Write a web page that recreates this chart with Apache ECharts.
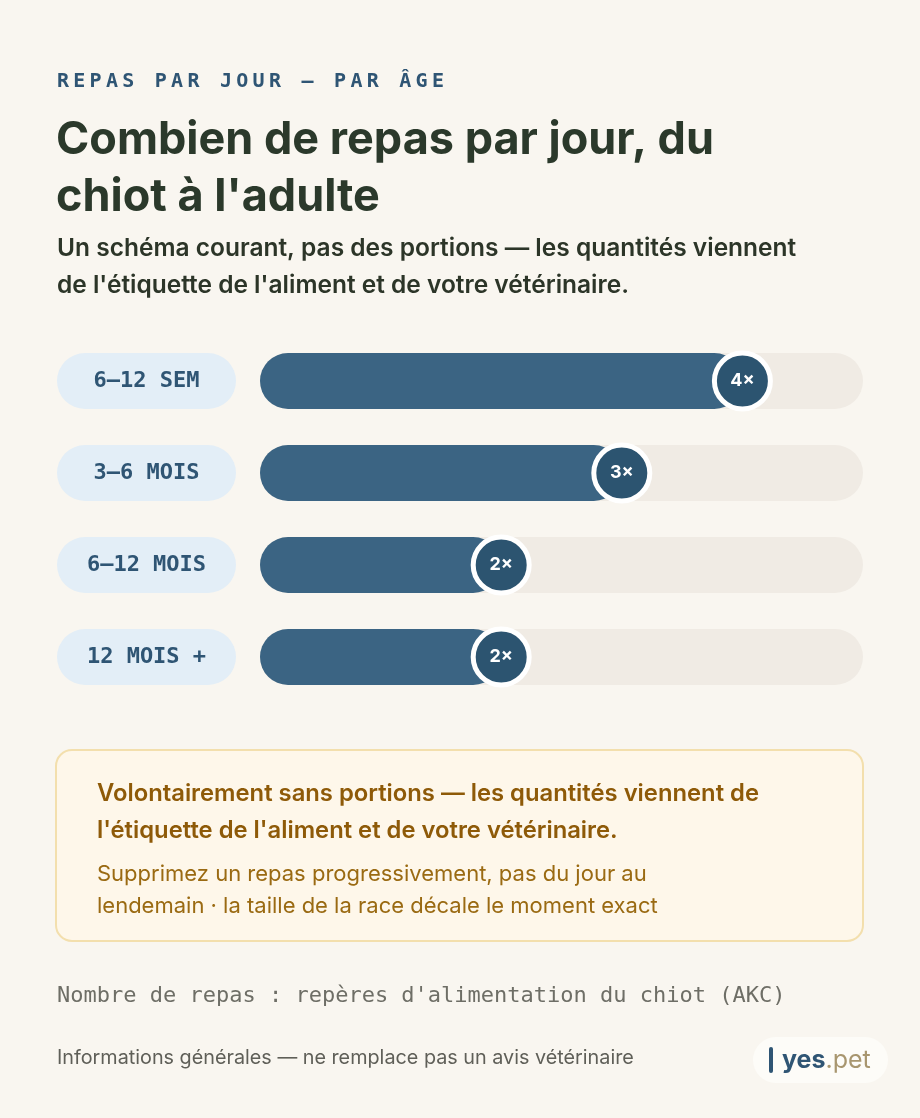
<!DOCTYPE html>
<html lang="fr">
<head>
    <meta charset="UTF-8">
    <title>Repas par jour</title>
    <script src="https://cdn.jsdelivr.net/npm/echarts@6/dist/echarts.min.js"></script>
    <style>
        *{
            margin: 0;
            padding: 0;
        }
        body{
            background: #f9f6f0;
        }
        .container{
            width: 920px;
            height: 1118px;
        }
    </style>
</head>
<body>
<div class="container"></div>
<script>
    // data
    let categories = ['6–12 SEM', '3–6 MOIS', '6–12 MOIS', '12 MOIS +']
    let mealsPerDay = [4, 3, 2, 2]
    let scaleMax = 5

    let mono = '"DejaVu Sans Mono", monospace'
    let sans = 'Inter, "Noto Sans", sans-serif'
    let blue = '#2f5574'

    let container = document.querySelector('.container')
    let echart = echarts.init(container)

    // eyebrow with letter spacing: one text per character
    let eyebrow = 'REPAS PAR JOUR — PAR ÂGE'
    let eyebrowTexts = eyebrow.split('').map((ch, i) => ({
        type: 'text',
        style: {
            text: ch, x: 57 + i * 16.3, y: 82,
            font: 'bold 20px ' + mono, fill: blue, verticalAlign: 'middle'
        }
    }))

    function txt(text, x, y, font, fill) {
        return {type: 'text', style: {text, x, y, font, fill, verticalAlign: 'middle'}}
    }

    let graphic = eyebrowTexts.concat([
        txt('Combien de repas par jour, du', 56, 140, 'bold 45px ' + sans, '#2b392b'),
        txt("chiot à l'adulte", 56, 197, 'bold 45px ' + sans, '#2b392b'),
        txt('Un schéma courant, pas des portions — les quantités viennent', 57, 249, '600 24.5px ' + sans, '#2c3528'),
        txt("de l'étiquette de l'aliment et de votre vétérinaire.", 57, 286, '600 24.5px ' + sans, '#2c3528'),
        {
            type: 'rect',
            shape: {x: 56, y: 750, width: 807, height: 191, r: 16},
            style: {fill: '#fef7ea', stroke: '#f3dfad', lineWidth: 2}
        },
        txt('Volontairement sans portions — les quantités viennent de', 97, 794, '600 23.8px ' + sans, '#8e5a08'),
        txt("l'étiquette de l'aliment et de votre vétérinaire.", 97, 831, '600 23.8px ' + sans, '#8e5a08'),
        txt('Supprimez un repas progressivement, pas du jour au', 97, 874, '22px ' + sans, '#9a6a12'),
        txt('lendemain · la taille de la race décale le moment exact', 97, 906, '22px ' + sans, '#9a6a12'),
        txt("Nombre de repas : repères d'alimentation du chiot (AKC)", 57, 996, '22px ' + mono, '#6e6e66'),
        txt('Informations générales — ne remplace pas un avis vétérinaire', 57, 1058, '19.8px ' + sans, '#5f5f58'),
        {
            type: 'rect',
            shape: {x: 753, y: 1037, width: 135, height: 46, r: 23},
            style: {fill: '#fdfcf8'}
        },
        {
            type: 'rect',
            shape: {x: 769, y: 1047, width: 4, height: 26, r: 2},
            style: {fill: blue}
        },
        {
            type: 'text',
            style: {
                text: '{a|yes}{b|.pet}', x: 782, y: 1060, verticalAlign: 'middle',
                rich: {
                    a: {font: 'bold 25px ' + sans, fill: blue},
                    b: {font: '25px ' + sans, fill: '#a8966f'}
                }
            }
        }
    ])

    let option = {
        backgroundColor: '#f9f6f0',
        animation: false,
        grid: {left: 260, right: 57, top: 335, height: 368},
        xAxis: {
            type: 'value', min: 0, max: scaleMax, show: false
        },
        yAxis: {
            type: 'category',
            data: categories,
            inverse: true,
            axisLine: {show: false},
            axisTick: {show: false},
            axisLabel: {
                margin: 24,
                formatter: v => '{p|' + v + '}',
                rich: {
                    p: {
                        width: 179, height: 56, lineHeight: 64, align: 'center',
                        backgroundColor: '#e3eef7', borderRadius: 28,
                        color: blue, fontFamily: mono, fontWeight: 'bold', fontSize: 22
                    }
                }
            }
        },
        series: [
            {
                name: 'track',
                type: 'bar',
                data: categories.map(() => scaleMax),
                barWidth: 56,
                silent: true,
                itemStyle: {color: '#f0ebe4', borderRadius: 28}
            },
            {
                name: 'repas',
                type: 'bar',
                data: mealsPerDay,
                barWidth: 56,
                barGap: '-100%',
                itemStyle: {color: '#3b6483', borderRadius: 28}
            },
            {
                name: 'marker',
                type: 'scatter',
                data: mealsPerDay.map((v, i) => [v, categories[i]]),
                symbolSize: 56,
                z: 5,
                itemStyle: {color: '#2c5470', borderColor: '#ffffff', borderWidth: 5, opacity: 1},
                label: {
                    show: true,
                    position: 'inside',
                    formatter: p => p.value[0] + '×',
                    color: '#ffffff',
                    fontFamily: sans,
                    fontWeight: 'bold',
                    fontSize: 18
                }
            }
        ],
        graphic
    }

    echart.setOption(option)
</script>
</body>
</html>
